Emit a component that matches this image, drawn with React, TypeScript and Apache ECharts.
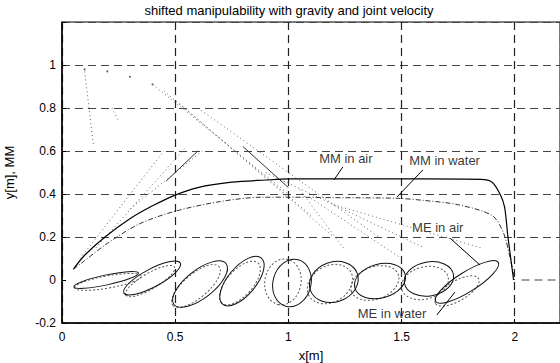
import React, { useEffect, useRef } from 'react';
import * as echarts from 'echarts';

// ---- data ----
const xTickMax = 2.2;
const yTicks = [-0.2, 0, 0.2, 0.4, 0.6, 0.8, 1, 1.2];

const mmAir: number[][] = [
  [0.05, 0.05], [0.1, 0.115], [0.19, 0.2], [0.3, 0.285], [0.4, 0.345], [0.5, 0.395],
  [0.6, 0.43], [0.75, 0.455], [0.9, 0.465], [1.0, 0.47], [1.3, 0.47], [1.6, 0.47],
  [1.85, 0.468], [1.9, 0.455], [1.935, 0.4], [1.955, 0.34], [1.97, 0.2], [1.985, 0.08], [1.995, 0.0],
];

const mmWater: number[][] = [
  [0.05, 0.05], [0.1, 0.09], [0.2, 0.17], [0.34, 0.26], [0.5, 0.32], [0.7, 0.365],
  [0.885, 0.385], [1.0, 0.385], [1.2, 0.383], [1.48, 0.38], [1.6, 0.37], [1.75, 0.35],
  [1.9, 0.3], [1.95, 0.22], [1.98, 0.1], [2.0, 0.0],
];

// ellipses: [centerX, centerY, semiMajor, semiMinor (x units), tilt deg]
const meAir: number[][] = [
  [0.195, 0.0, 0.146, 0.022, 12],
  [0.398, 0.009, 0.141, 0.04, 28],
  [0.61, -0.019, 0.146, 0.062, 38],
  [0.795, -0.005, 0.133, 0.062, 50],
  [1.016, -0.014, 0.106, 0.084, 75],
  [1.201, -0.009, 0.11, 0.088, 20],
  [1.405, -0.005, 0.115, 0.075, 15],
  [1.621, 0.005, 0.11, 0.075, 10],
  [1.789, -0.009, 0.163, 0.044, 32],
];

const meWater: number[][] = [
  [0.203, -0.009, 0.15, 0.027, 10],
  [0.389, -0.005, 0.124, 0.035, 30],
  [0.592, -0.028, 0.133, 0.053, 40],
  [0.786, -0.014, 0.119, 0.057, 48],
  [0.976, -0.009, 0.102, 0.08, 80],
  [1.184, -0.019, 0.106, 0.08, 30],
  [1.382, -0.014, 0.11, 0.071, 20],
  [1.603, -0.014, 0.106, 0.071, 15],
  [1.745, -0.051, 0.11, 0.044, 30],
];

// dotted arm links
const armLinks: number[][][] = [
  [[0.4, 0.91], [1.0, 0.4]],
  [[0.45, 0.88], [1.1, 0.3]],
  [[0.52, 0.82], [1.2, 0.2]],
  [[0.6, 0.8], [1.4, 0.2]],
  [[0.9, 0.5], [1.6, 0.15]],
  [[1.05, 0.42], [1.25, 0.14]],
  [[1.1, 0.38], [1.5, 0.1]],
  [[1.2, 0.35], [1.85, 0.15]],
  [[0.08, 0.1], [0.45, 0.6]],
  [[0.15, 0.15], [0.55, 0.62]],
  [[0.3, 0.33], [0.62, 0.6]],
  [[0.1, 0.97], [0.14, 0.62]],
  [[0.22, 0.8], [0.25, 0.74]],
];
const solidLinks: number[][][] = [
  [[0.46, 0.46], [0.6, 0.6]],
  [[0.8, 0.62], [1.0, 0.43]],
];
const topDots: number[][] = [[0.1, 0.98], [0.2, 0.97], [0.3, 0.945], [0.4, 0.91]];

const zeroLineRight: number[][] = [[2.03, 0], [2.2, 0]];

const annotations = [
  { name: 'MM in air', value: [1.254, 0.567] },
  { name: 'MM in water', value: [1.69, 0.558] },
  { name: 'ME in air', value: [1.66, 0.242] },
  { name: 'ME in water', value: [1.458, -0.158] },
];
const arrows: number[][][] = [
  [[1.241, 0.526], [1.201, 0.465]],
  [[1.594, 0.512], [1.48, 0.386]],
  [[1.714, 0.195], [1.846, 0.07]],
  [[1.656, -0.163], [1.736, -0.056]],
];

const FONT = 'Liberation Sans, Arial, Helvetica, sans-serif';

function ellipseSeries(name: string, data: number[][], stroke: string, dash: number[] | null) {
  return {
    name,
    type: 'custom',
    data,
    encode: { x: 0, y: 1 },
    silent: true,
    renderItem: (params: any, api: any) => {
      const c = api.coord([api.value(0), api.value(1)]);
      const a = api.size([api.value(2), 0])[0];
      const b = api.size([api.value(3), 0])[0];
      return {
        type: 'ellipse',
        x: c[0],
        y: c[1],
        rotation: (api.value(4) * Math.PI) / 180,
        shape: { cx: 0, cy: 0, rx: a, ry: b },
        style: { fill: 'none', stroke, lineWidth: 1, lineDash: dash || undefined },
      };
    },
  };
}

export default function App() {
  const ref = useRef<HTMLDivElement>(null);
  useEffect(() => {
    if (!ref.current) return;
    const chart = echarts.init(ref.current, null, { renderer: 'svg' });
    const gridColors = yTicks.map((v) => (Math.abs(v) < 1e-9 ? 'rgba(0,0,0,0)' : '#444'));
    const series: any[] = [];
    armLinks.forEach((seg, i) => {
      series.push({
        name: 'arm' + i, type: 'line', data: seg, symbol: 'none', silent: true,
        lineStyle: { color: '#666', width: 1, type: [1, 3] },
      });
    });
    solidLinks.forEach((seg, i) => {
      series.push({
        name: 'link' + i, type: 'line', data: seg, symbol: 'none', silent: true,
        lineStyle: { color: '#333', width: 1 },
      });
    });
    series.push({
      name: 'dots', type: 'scatter', data: topDots, symbolSize: 2, silent: true,
      itemStyle: { color: '#444' },
    });
    series.push(ellipseSeries('ME in water', meWater, '#555', [2, 2]));
    series.push(ellipseSeries('ME in air', meAir, '#111', null));
    series.push({
      name: 'MM in water', type: 'line', data: mmWater, symbol: 'none', smooth: 0.3, silent: true,
      lineStyle: { color: '#333', width: 1, type: [5, 2, 1, 2] },
    });
    series.push({
      name: 'MM in air', type: 'line', data: mmAir, symbol: 'none', smooth: 0.3, silent: true,
      lineStyle: { color: '#000', width: 1.2 },
    });
    series.push({
      name: 'zero', type: 'line', data: zeroLineRight, symbol: 'none', silent: true,
      lineStyle: { color: '#444', width: 1.2, type: [8, 5] },
    });
    series.push({
      name: 'labels', type: 'scatter', data: annotations, symbolSize: 0, silent: true,
      label: {
        show: true, position: 'inside', formatter: '{b}', color: '#000',
        fontSize: 13, fontFamily: FONT,
      },
      markLine: {
        silent: true,
        symbol: ['none', 'arrow'],
        symbolSize: [0, 8],
        label: { show: false },
        lineStyle: { color: '#000', width: 1, type: 'solid' },
        data: arrows.map((a) => [{ coord: a[0] }, { coord: a[1] }]),
      },
    });

    chart.setOption({
      animation: false,
      backgroundColor: '#fff',
      grid: {
        left: 62, right: 0, top: 22, bottom: 40, show: true, borderColor: '#000', borderWidth: 1,
        backgroundColor: 'transparent', containLabel: false, outerBoundsMode: 'none',
      },
      graphic: [
        {
          type: 'text', x: 289, y: 4,
          style: {
            text: 'shifted manipulability with gravity and joint velocity',
            fontSize: 13, fontFamily: FONT, fill: '#000', textAlign: 'center', textVerticalAlign: 'top',
          },
        },
      ],
      xAxis: {
        type: 'value', min: 0, max: xTickMax, interval: 0.5,
        name: 'x[m]', nameLocation: 'middle', nameGap: 26,
        nameTextStyle: { fontSize: 13, fontFamily: FONT, color: '#000' },
        axisLine: { show: true, onZero: false, lineStyle: { color: '#000', width: 1.5 } },
        axisTick: { show: true, inside: true, length: 4, lineStyle: { color: '#000' } },
        axisLabel: {
          color: '#000', fontSize: 12, fontFamily: FONT, margin: 8, showMaxLabel: false,
          formatter: (v: number) => (v > 2.1 ? '' : String(Number(v.toFixed(1)))),
        },
        splitLine: { show: true, lineStyle: { color: '#222', width: 1.2, type: [8, 5] } },
      },
      yAxis: {
        type: 'value', min: -0.2, max: 1.2, interval: 0.2,
        name: 'y[m], MM', nameLocation: 'middle', nameGap: 46,
        nameTextStyle: { fontSize: 13, fontFamily: FONT, color: '#000' },
        axisLine: { show: true, onZero: false, lineStyle: { color: '#000', width: 1.5 } },
        axisTick: { show: true, inside: true, length: 4, lineStyle: { color: '#000' } },
        axisLabel: {
          color: '#000', fontSize: 12, fontFamily: FONT, margin: 6,
          formatter: (v: number) => (v > 1.1 ? '' : String(Number(v.toFixed(1)))),
        },
        splitLine: { show: true, lineStyle: { color: gridColors, width: 1.2, type: [8, 5] } },
      },
      series,
    });
    return () => chart.dispose();
  }, []);
  return (
    <div
      ref={ref}
      style={{ position: 'fixed', left: 0, top: 0, width: 560, height: 363, background: '#fff' }}
    />
  );
}
